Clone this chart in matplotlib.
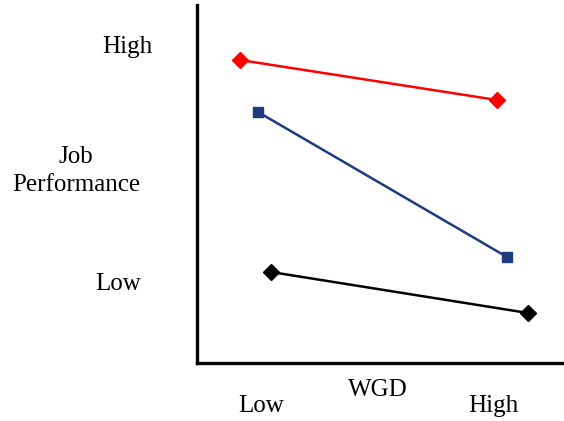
import matplotlib
matplotlib.use("Agg")
import matplotlib.pyplot as plt

# interaction plot, coordinates measured from the axis origin (pixels-ish units)
red_x = [43, 300]
red_y = [303, 263]
blue_x = [61, 310]
blue_y = [251, 106]
black_x = [74, 331]
black_y = [91, 50]

y_labels = ["High", "Job\nPerformance", "Low"]
x_labels = ["Low", "WGD", "High"]

W, H = 564, 421
fig = plt.figure(figsize=(W / 100, H / 100), dpi=100)
plt.rcParams['font.family'] = ['Liberation Serif', 'DejaVu Serif']

ax = fig.add_axes([197 / W, (H - 363) / H, (562 - 197) / W, (363 - 5) / H])
ax.set_xlim(0, 365)
ax.set_ylim(0, 358)

ax.plot(red_x, red_y, color='#ff0000', lw=1.8, marker='D', ms=8.5, clip_on=False)
ax.plot(blue_x, blue_y, color='#1f3b7d', lw=1.8, marker='s', ms=7, clip_on=False)
ax.plot(black_x, black_y, color='black', lw=1.8, marker='D', ms=8.5, clip_on=False)

for s in ['top', 'right']:
    ax.spines[s].set_visible(False)
for s in ['left', 'bottom']:
    ax.spines[s].set_linewidth(2.4)
ax.set_xticks([])
ax.set_yticks([])

def px(x, y):
    return x / W, 1 - y / H

fs = 18
fig.text(*px(127, 47), y_labels[0], ha='center', va='center', fontsize=fs)
fig.text(*px(76, 171), y_labels[1], ha='center', va='center', fontsize=fs,
         linespacing=1.4)
fig.text(*px(118, 284), y_labels[2], ha='center', va='center', fontsize=fs)

fig.text(*px(261, 406), x_labels[0], ha='center', va='center', fontsize=fs)
fig.text(*px(378, 390), x_labels[1], ha='center', va='center', fontsize=fs)
fig.text(*px(493, 406), x_labels[2], ha='center', va='center', fontsize=fs)

fig.savefig("out.png", dpi=100)
